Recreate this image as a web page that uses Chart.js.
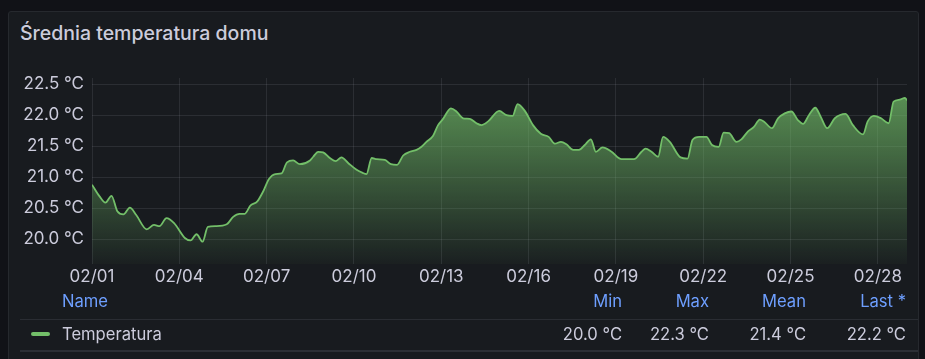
<!DOCTYPE html>
<html lang="pl">
<head>
<meta charset="utf-8">
<title>Średnia temperatura domu</title>
<script src="https://cdn.jsdelivr.net/npm/chart.js@4.4.1/dist/chart.umd.min.js"></script>
<style>
  html, body { margin: 0; padding: 0; background: #111217; }
  body { width: 925px; height: 359px; position: relative; overflow: hidden; font-family: Inter, sans-serif; }
  .panel {
    position: absolute; left: 8px; top: 11px; width: 911px; height: 360px;
    background: #181b1f; border: 1px solid #26292e; border-radius: 3px; box-sizing: border-box;
  }
  .title {
    position: absolute; left: 20px; top: 21px; font-size: 19.5px; font-weight: 500;
    color: #ccccdc; line-height: 24px; white-space: nowrap;
  }
  .chart-box { position: absolute; left: 0; top: 0; width: 925px; height: 292px; }
  .legend { position: absolute; left: 0; top: 0; width: 925px; height: 359px; pointer-events: none; }
  .legend span { position: absolute; font-size: 16.6px; line-height: 20px; white-space: nowrap; }
  .hdr { color: #6e9fff; top: 291px; }
  .val { color: #ccccdc; top: 324px; }
  .r { transform: translateX(-100%); }
  .rule { position: absolute; left: 20px; width: 898px; height: 1px; background: #2a2d33; }
  .swatch { position: absolute; left: 31px; top: 332px; width: 19px; height: 4px; border-radius: 2px; background: #73BF69; }
</style>
</head>
<body>
<div class="panel"></div>
<div class="title">Średnia temperatura domu</div>
<div class="chart-box"><canvas id="wykres"></canvas></div>
<div class="legend" id="legenda">
  <div class="rule" style="top:319px"></div>
  <div class="rule" style="top:350px; height:2px; background:#2c2f35"></div>
  <div class="swatch"></div>
</div>
<script>
// dni od 02/01 00:00
const dni = [0, 0.26, 0.46, 0.67, 0.87, 1.08, 1.30, 1.52, 1.88, 2.13, 2.32, 2.56, 2.82, 3.19, 3.39, 3.59,
  3.80, 3.98, 4.26, 4.63, 4.85, 5.07, 5.25, 5.44, 5.68, 5.88, 6.08, 6.30, 6.51, 6.70, 6.91, 7.14,
  7.49, 7.60, 7.77, 7.94, 8.17, 8.38, 8.57, 8.80, 9.09, 9.30, 9.43, 9.61, 9.78, 10.06, 10.27, 10.48,
  10.69, 10.92, 11.15, 11.32, 11.49, 11.72, 11.89, 12.06, 12.33, 12.52, 12.75, 12.98, 13.21, 13.38,
  13.61, 13.99, 14.24, 14.45, 14.62, 14.87, 15.15, 15.42, 15.69, 15.90, 16.11, 16.30, 16.53, 16.73,
  16.93, 17.14, 17.31, 17.54, 17.85, 18.19, 18.62, 18.88, 19.02, 19.22, 19.45, 19.62, 19.85, 20.22,
  20.46, 20.63, 20.86, 21.11, 21.30, 21.53, 21.70, 21.89, 22.14, 22.31, 22.54, 22.74, 22.94, 23.08,
  23.36, 23.57, 23.80, 24.03, 24.25, 24.43, 24.63, 24.85, 25.03, 25.26, 25.52, 25.89, 26.14, 26.49,
  26.65, 26.86, 27.11, 27.37, 27.54, 27.75, 27.93, 28.00];

const temperatura = [20.88, 20.69, 20.59, 20.70, 20.45, 20.40, 20.51, 20.39, 20.16, 20.23, 20.21, 20.34, 20.26, 20.02, 19.98, 20.08,
  19.96, 20.20, 20.21, 20.24, 20.36, 20.41, 20.41, 20.54, 20.61, 20.77, 20.97, 21.05, 21.06, 21.24, 21.27, 21.21,
  21.27, 21.33, 21.41, 21.40, 21.31, 21.26, 21.32, 21.23, 21.12, 21.07, 21.05, 21.31, 21.29, 21.28, 21.21, 21.20,
  21.35, 21.41, 21.44, 21.49, 21.57, 21.67, 21.84, 21.94, 22.11, 22.06, 21.95, 21.94, 21.87, 21.84,
  21.90, 22.07, 22.00, 21.99, 22.18, 22.07, 21.84, 21.70, 21.65, 21.54, 21.57, 21.53, 21.44, 21.44,
  21.52, 21.61, 21.41, 21.48, 21.41, 21.29, 21.29, 21.41, 21.46, 21.41, 21.33, 21.65, 21.57, 21.32,
  21.30, 21.60, 21.65, 21.65, 21.52, 21.49, 21.72, 21.71, 21.57, 21.61, 21.74, 21.81, 21.93, 21.90,
  21.79, 21.95, 22.03, 22.06, 21.92, 21.86, 22.00, 22.12, 21.98, 21.79, 21.95, 22.02, 21.84, 21.69,
  21.90, 21.99, 21.95, 21.87, 22.22, 22.25, 22.28, 22.24];

const xTicki = [0, 3, 6, 9, 12, 15, 18, 21, 24, 27];
const xEtykiety = ['02/01', '02/04', '02/07', '02/10', '02/13', '02/16', '02/19', '02/22', '02/25', '02/28'];
const yTicki = [20.0, 20.5, 21.0, 21.5, 22.0, 22.5];

// legenda (tabela)
const kolumny = ['Min', 'Max', 'Mean', 'Last *'];
const statystyki = ['20.0 °C', '22.3 °C', '21.4 °C', '22.2 °C'];
const prawaKrawedz = [622, 709, 806, 906];

const FONT = 'Inter, sans-serif';
const TEXT = '#ccccdc';
const GRID = 'rgba(204,204,220,0.11)';
const GREEN = '#73BF69';

const leg = document.getElementById('legenda');
function dodaj(txt, cls, left) {
  const s = document.createElement('span');
  s.className = cls;
  s.textContent = txt;
  s.style.left = left + 'px';
  leg.appendChild(s);
}
dodaj('Name', 'hdr', 62);
dodaj('Temperatura', 'val', 62);
kolumny.forEach((k, i) => dodaj(k, 'hdr r', prawaKrawedz[i]));
statystyki.forEach((v, i) => dodaj(v, 'val r', prawaKrawedz[i]));

function gradient(ctx) {
  const { chart } = ctx;
  const area = chart.chartArea;
  if (!area) return 'rgba(115,191,105,0.3)';
  const g = chart.ctx.createLinearGradient(0, area.top, 0, area.bottom);
  g.addColorStop(0, 'rgba(115,191,105,0.78)');
  g.addColorStop(1, 'rgba(115,191,105,0.03)');
  return g;
}

new Chart(document.getElementById('wykres'), {
  type: 'line',
  data: {
    datasets: [{
      label: 'Temperatura',
      data: dni.map((d, i) => ({ x: d, y: temperatura[i] })),
      borderColor: GREEN,
      borderWidth: 1.8,
      backgroundColor: gradient,
      fill: 'start',
      pointRadius: 0,
      cubicInterpolationMode: 'monotone',
    }],
  },
  options: {
    responsive: true,
    maintainAspectRatio: false,
    animation: false,
    layout: { padding: { left: 0, right: 18, top: 78, bottom: 0 } },
    plugins: { legend: { display: false }, tooltip: { enabled: false } },
    scales: {
      x: {
        type: 'linear',
        min: 0,
        max: 28,
        afterBuildTicks(scale) { scale.ticks = xTicki.map(v => ({ value: v })); },
        afterFit(scale) { scale.height = 28; },
        grid: { color: GRID, drawTicks: false },
        border: { display: false },
        ticks: {
          padding: 3,
          maxRotation: 0,
          autoSkip: false,
          font: { family: FONT, size: 17 },
          color: TEXT,
          callback: (v, i) => xEtykiety[i],
        },
      },
      y: {
        min: 19.6,
        max: 22.6,
        afterBuildTicks(scale) { scale.ticks = yTicki.map(v => ({ value: v })); },
        afterFit(scale) { scale.width = 92; },
        grid: { color: GRID, drawTicks: false },
        border: { display: false },
        ticks: {
          padding: 8,
          font: { family: FONT, size: 17 },
          color: TEXT,
          callback: v => v.toFixed(1) + ' °C',
        },
      },
    },
  },
});
</script>
</body>
</html>
